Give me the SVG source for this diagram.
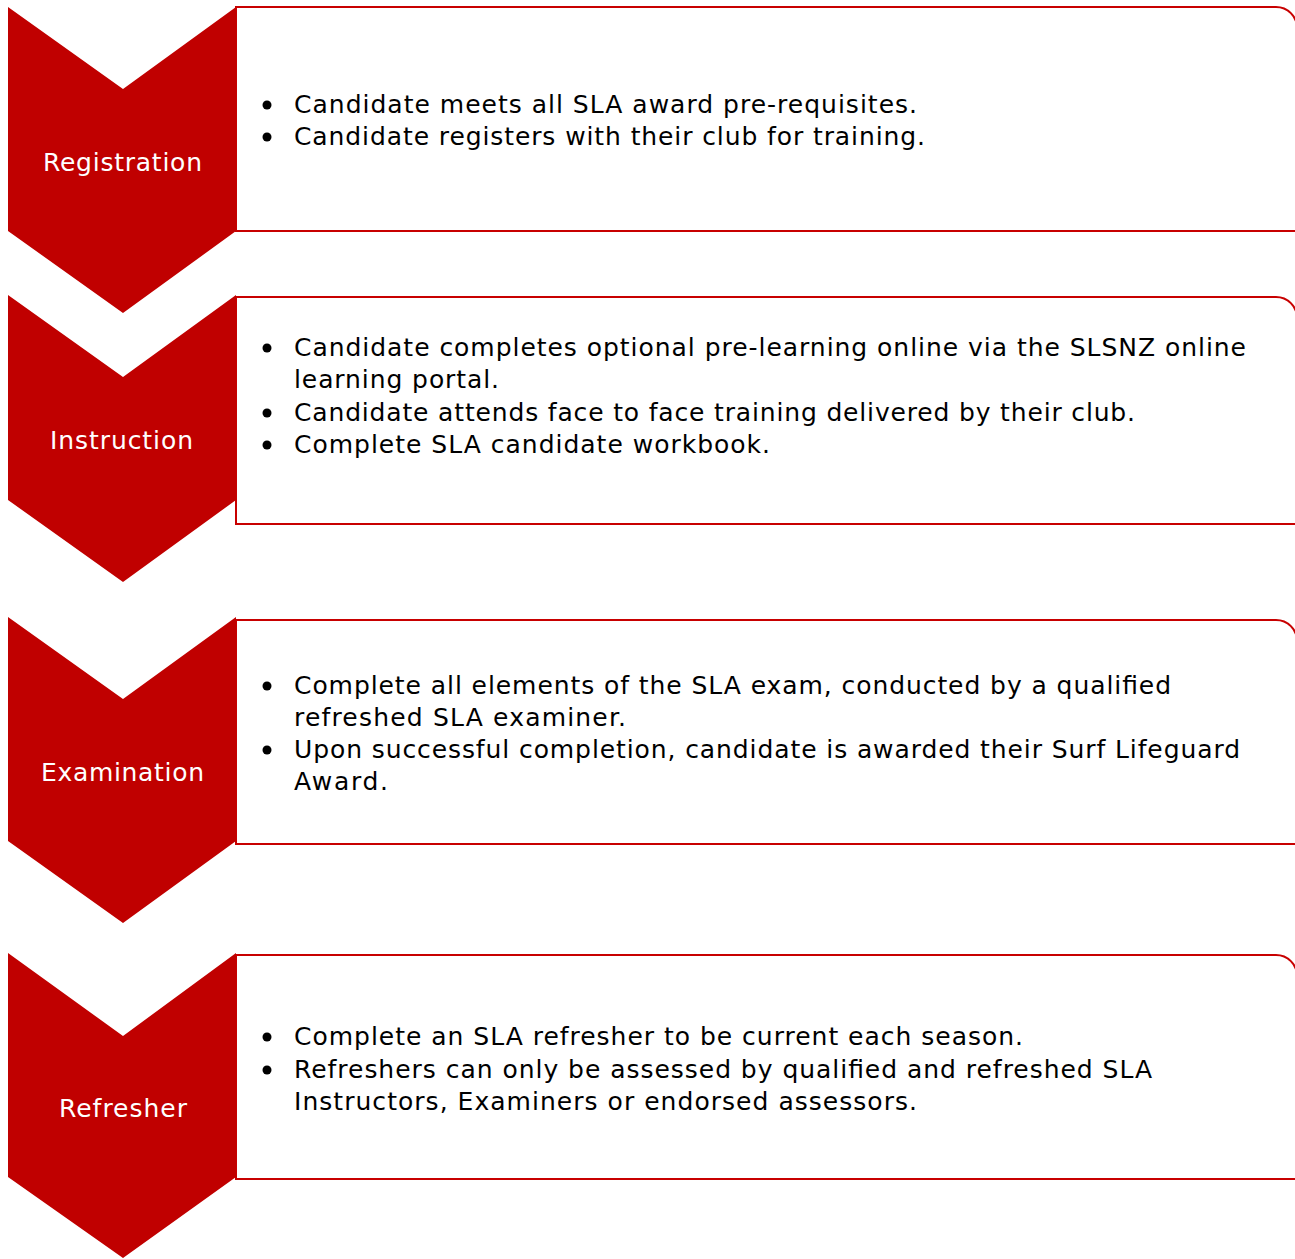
<svg xmlns="http://www.w3.org/2000/svg" width="1295" height="1259" viewBox="0 0 1295 1259">
  <style>
    .chev { fill: #c00000; }
    .box { fill: #ffffff; stroke: #c80000; stroke-width: 2; }
    .label { font-family: "DejaVu Sans", Verdana, sans-serif; font-size: 25px; fill: #ffffff; text-anchor: middle; }
    .item { font-family: "DejaVu Sans", Verdana, sans-serif; font-size: 25px; fill: #000000; }
  </style>
  <rect width="1295" height="1259" fill="#ffffff"/>

  <!-- Step 1 -->
  <g id="registration">
    <path class="box" d="M236,7 H1276 A21,21 0 0 1 1297,28 V231 H236 Z"/>
    <polygon class="chev" points="8,7 123,89 236,7 236,231 123,313 8,231"/>
    <text class="label" x="122.5" y="171" textLength="159" lengthAdjust="spacing">Registration</text>
    <g class="item">
      <circle cx="267" cy="105" r="4.5" fill="#000"/>
      <text x="294" y="113" textLength="623" lengthAdjust="spacing">Candidate meets all SLA award pre-requisites.</text>
      <circle cx="267" cy="137" r="4.5" fill="#000"/>
      <text x="294" y="145" textLength="631" lengthAdjust="spacing">Candidate registers with their club for training.</text>
    </g>
  </g>

  <!-- Step 2 -->
  <g id="instruction">
    <path class="box" d="M236,297 H1276 A21,21 0 0 1 1297,318 V524 H236 Z"/>
    <polygon class="chev" points="8,295 123,377 236,295 236,500 123,582 8,500"/>
    <text class="label" x="121.5" y="449" textLength="143" lengthAdjust="spacing">Instruction</text>
    <g class="item">
      <circle cx="267" cy="348" r="4.5" fill="#000"/>
      <text x="294" y="356" textLength="952" lengthAdjust="spacing">Candidate completes optional pre-learning online via the SLSNZ online</text>
      <text x="294" y="388" textLength="205" lengthAdjust="spacing">learning portal.</text>
      <circle cx="267" cy="413" r="4.5" fill="#000"/>
      <text x="294" y="421" textLength="841" lengthAdjust="spacing">Candidate attends face to face training delivered by their club.</text>
      <circle cx="267" cy="445" r="4.5" fill="#000"/>
      <text x="294" y="453" textLength="476" lengthAdjust="spacing">Complete SLA candidate workbook.</text>
    </g>
  </g>

  <!-- Step 3 -->
  <g id="examination">
    <path class="box" d="M236,620 H1276 A21,21 0 0 1 1297,641 V844 H236 Z"/>
    <polygon class="chev" points="8,617 123,699 236,617 236,841 123,923 8,841"/>
    <text class="label" x="122.5" y="781" textLength="163" lengthAdjust="spacing">Examination</text>
    <g class="item">
      <circle cx="267" cy="686" r="4.5" fill="#000"/>
      <text x="294" y="694" textLength="877" lengthAdjust="spacing">Complete all elements of the SLA exam, conducted by a qualified</text>
      <text x="294" y="726" textLength="332" lengthAdjust="spacing">refreshed SLA examiner.</text>
      <circle cx="267" cy="750" r="4.5" fill="#000"/>
      <text x="294" y="758" textLength="946" lengthAdjust="spacing">Upon successful completion, candidate is awarded their Surf Lifeguard</text>
      <text x="294" y="790" textLength="94" lengthAdjust="spacing">Award.</text>
    </g>
  </g>

  <!-- Step 4 -->
  <g id="refresher">
    <path class="box" d="M236,955 H1276 A21,21 0 0 1 1297,976 V1179 H236 Z"/>
    <polygon class="chev" points="8,953 123,1036 236,953 236,1177 123,1258 8,1177"/>
    <text class="label" x="123" y="1117" textLength="128" lengthAdjust="spacing">Refresher</text>
    <g class="item">
      <circle cx="267" cy="1037" r="4.5" fill="#000"/>
      <text x="294" y="1045" textLength="729" lengthAdjust="spacing">Complete an SLA refresher to be current each season.</text>
      <circle cx="267" cy="1070" r="4.5" fill="#000"/>
      <text x="294" y="1078" textLength="858" lengthAdjust="spacing">Refreshers can only be assessed by qualified and refreshed SLA</text>
      <text x="294" y="1110" textLength="623" lengthAdjust="spacing">Instructors, Examiners or endorsed assessors.</text>
    </g>
  </g>

  <!-- connectors: none drawn, the chevrons carry the flow -->
  <g id="connectors"/>
</svg>
